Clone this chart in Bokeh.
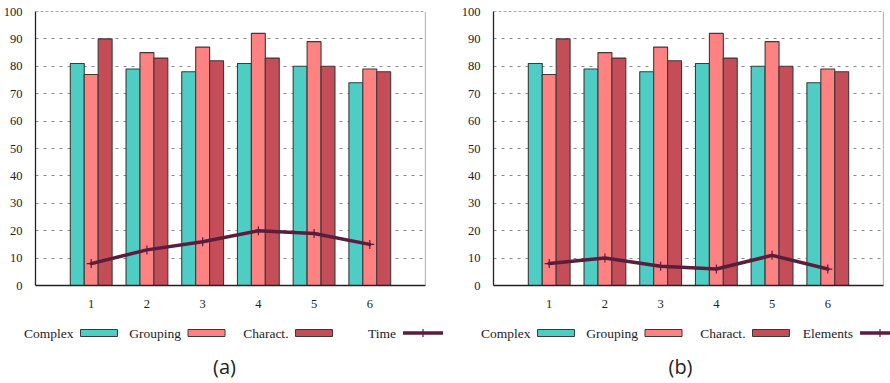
from bokeh.plotting import figure
from bokeh.models import Range1d, FixedTicker, Span, ColumnDataSource
from bokeh.layouts import row, column
from bokeh.transform import dodge
from bokeh.core.properties import value
from bokeh.embed import file_html
from bokeh.resources import INLINE

# ---------------- data ----------------
categories = [1, 2, 3, 4, 5, 6]
complex_vals = [81, 79, 78, 81, 80, 74]
grouping_vals = [77, 85, 87, 92, 89, 79]
charact_vals = [90, 83, 82, 83, 80, 78]
time_vals = [8, 13, 16, 20, 19, 15]        # panel (a)
elements_vals = [8, 10, 7, 6, 11, 6]       # panel (b)
y_ticks = list(range(0, 101, 10))
legend_a = ["Complex", "Grouping", "Charact.", "Time"]
legend_b = ["Complex", "Grouping", "Charact.", "Elements"]

C_CYAN = "#4ECDC4"
C_PINK = "#FF8282"
C_DARK = "#C44D58"
C_LINE = "#5A1E3C"
SERIF = "Liberation Serif"


def panel(line_vals, border_left, border_right):
    src = ColumnDataSource(dict(x=categories, c=complex_vals, g=grouping_vals,
                                h=charact_vals, t=line_vals))
    p = figure(width=445, height=310, output_backend="svg", toolbar_location=None,
               x_range=Range1d(0, 7), y_range=Range1d(0, 100),
               min_border_left=border_left, min_border_right=border_right,
               min_border_top=11, min_border_bottom=24,
               background_fill_color="white", border_fill_color="white")
    p.outline_line_color = None
    p.xgrid.visible = False
    p.ygrid.ticker = FixedTicker(ticks=y_ticks[1:-1])
    p.ygrid.grid_line_color = "#8a8a8a"
    p.ygrid.grid_line_dash = "3 5"
    p.ygrid.grid_line_width = 1

    for ax in p.xaxis + p.yaxis:
        ax.major_tick_line_color = None
        ax.minor_tick_line_color = None
        ax.axis_line_color = "#222222"
        ax.axis_line_width = 1.3
        ax.major_label_text_font = SERIF
        ax.major_label_text_font_size = "12.5px"
        ax.major_label_text_color = "#222222"
    p.xaxis.ticker = FixedTicker(ticks=categories)
    p.yaxis.ticker = FixedTicker(ticks=y_ticks)
    p.xaxis.major_label_standoff = 8
    p.yaxis.major_label_standoff = 7

    bar_kw = dict(width=0.25, line_color="#3a3a3a", line_width=1.1, source=src)
    p.vbar(x=dodge("x", -0.25, range=p.x_range), top="c", fill_color=C_CYAN, **bar_kw)
    p.vbar(x=dodge("x", 0.0, range=p.x_range), top="g", fill_color=C_PINK, **bar_kw)
    p.vbar(x=dodge("x", 0.25, range=p.x_range), top="h", fill_color=C_DARK, **bar_kw)

    p.line("x", "t", source=src, line_color=C_LINE, line_width=3.5,
           line_join="round", line_cap="round")
    p.scatter("x", "t", source=src, marker="cross", size=9, line_color=C_LINE,
              line_width=1.2)

    p.add_layout(Span(location=100, dimension="width", line_color="#555555",
                      line_dash="3 2", line_width=1.2))
    p.add_layout(Span(location=7, dimension="height", line_color="#777777",
                      line_width=1.2))
    return p


# legend strip spanning both panels; 1 unit = 1 px
leg = figure(width=890, height=73, output_backend="svg", toolbar_location=None,
             x_range=Range1d(0, 890), y_range=Range1d(73, 0),
             x_axis_location=None, y_axis_location=None,
             min_border_left=0, min_border_right=0, min_border_top=0,
             min_border_bottom=0, background_fill_color="white",
             border_fill_color="white")
leg.grid.visible = False
leg.outline_line_color = None


def add_legend(q, labels, start, caption, caption_x):
    step = 107.5
    lefts = [start + i * step for i in range(len(labels))]
    yc = 22.5
    colors = [C_CYAN, C_PINK, C_DARK]
    q.quad(left=lefts[:3], right=[l + 37 for l in lefts[:3]],
           top=[yc - 3.5] * 3, bottom=[yc + 3.5] * 3,
           fill_color=colors, line_color="#3a3a3a", line_width=1)
    q.line(x=[lefts[3], lefts[3] + 40], y=[yc, yc], line_color=C_LINE, line_width=3.5)
    q.scatter(x=[lefts[3] + 20], y=[yc], marker="cross", size=8,
              line_color=C_LINE, line_width=1.2)
    q.text(x=[l - 7 for l in lefts], y=[yc + 0.5] * len(labels), text=labels,
           text_align="right", text_baseline="middle",
           text_font=value(SERIF), text_font_size="13.5px", text_color="#222222")
    q.text(x=[caption_x], y=[56], text=[caption], text_align="center",
           text_baseline="middle", text_font=value("Open Sans"),
           text_font_size="20px", text_color="#222222")


pa = panel(time_vals, 35, 20)
pb = panel(elements_vals, 48, 7)
add_legend(leg, legend_a, 80, "(a)", 224)
add_legend(leg, legend_b, 537, "(b)", 680)

layout = column(row(pa, pb, spacing=0), leg, spacing=0)

open("out.html", "w").write(file_html(layout, INLINE))
